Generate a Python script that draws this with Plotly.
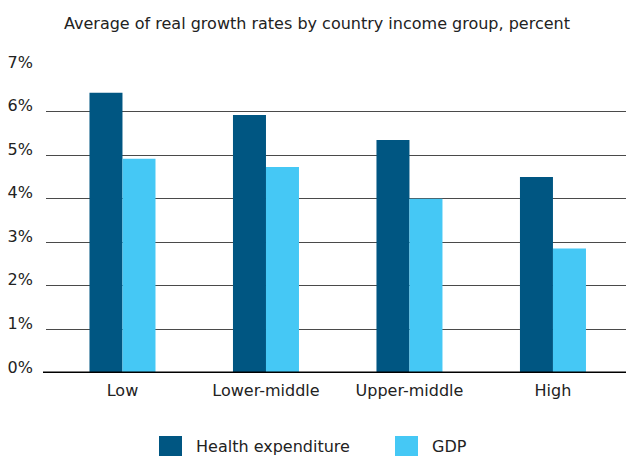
import plotly.graph_objects as go

# Average real growth rates by country income group (percent)
groups = ["Low", "Lower-middle", "Upper-middle", "High"]
series_names = ["Health expenditure", "GDP"]
health_growth = [6.43, 5.92, 5.35, 4.50]
gdp_growth = [4.92, 4.73, 4.00, 2.86]
y_ticks = [0, 1, 2, 3, 4, 5, 6, 7]
y_tick_labels = [f"{v}%" for v in y_ticks]

colors = ["#005682", "#45C8F5"]
font_family = "DejaVu Sans, Verdana, sans-serif"
text_color = "#222222"

W, H = 626, 456
m_l, m_r, m_t, m_b = 46, 0, 68, 83
plot_w = W - m_l - m_r
plot_h = H - m_t - m_b


def paper_x(px):
    return (px - m_l) / plot_w


def paper_y(py):
    return (H - m_b - py) / plot_h


fig = go.Figure()
for name, vals, col in zip(series_names, [health_growth, gdp_growth], colors):
    fig.add_trace(go.Bar(
        x=groups, y=vals, name=name,
        marker=dict(color=col, line=dict(width=0)),
        showlegend=False,
    ))

# Legend: colour swatches with labels beneath the plot
legend_items = [(series_names[0], colors[0], 159), (series_names[1], colors[1], 395)]
for name, col, px in legend_items:
    fig.add_shape(
        type="rect", xref="paper", yref="paper",
        x0=paper_x(px), x1=paper_x(px + 23),
        y0=paper_y(456), y1=paper_y(436),
        fillcolor=col, line=dict(width=0),
    )
    fig.add_annotation(
        text=name, xref="paper", yref="paper",
        x=paper_x(px + 35), y=paper_y(446),
        xanchor="left", yanchor="middle", showarrow=False,
        font=dict(family=font_family, size=16, color=text_color),
    )

# Thick baseline extending slightly left of the gridlines
fig.add_shape(
    type="line", xref="paper", yref="y",
    x0=paper_x(43), x1=1, y0=0, y1=0,
    line=dict(color="#000000", width=3),
)

fig.update_layout(
    width=W, height=H,
    margin=dict(l=m_l, r=m_r, t=m_t, b=m_b, pad=0),
    paper_bgcolor="white", plot_bgcolor="white",
    barmode="group", bargap=0.54, bargroupgap=0,
    font=dict(family=font_family, size=16, color=text_color),
    title=dict(
        text="Average of real growth rates by country income group, percent",
        x=64 / W, xref="container", xanchor="left",
        y=1 - 23 / H, yref="container", yanchor="middle",
        font=dict(family=font_family, size=16, color=text_color),
    ),
    xaxis=dict(
        range=[-0.533, 3.509], showgrid=False, zeroline=False,
        showline=False, ticks="", ticklabelstandoff=6,
        tickfont=dict(size=16),
    ),
    yaxis=dict(
        range=[0, 7], tickvals=y_ticks, ticktext=y_tick_labels,
        showgrid=True, gridcolor="#4a4a4a", gridwidth=1.3,
        zeroline=False, showline=False, ticks="",
        ticklabelstandoff=12, ticklabelshift=-6,
        tickfont=dict(size=16),
    ),
)

fig.write_html("out.html")
